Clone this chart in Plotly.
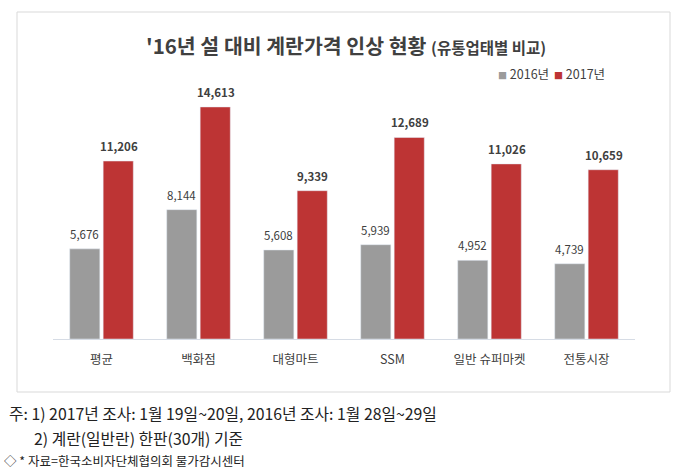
import plotly.graph_objects as go

# 유통업태별 계란 한판 가격 (원)
categories = ['평균', '백화점', '대형마트', 'SSM', '일반 슈퍼마켓', '전통시장']
price_2016 = [5676, 8144, 5608, 5939, 4952, 4739]
price_2017 = [11206, 14613, 9339, 12689, 11026, 10659]
series_names = ['2016년', '2017년']

W, H = 680, 471
ml, mr, mt, mb = 53, 45, 100, 132
pw, ph = W - ml - mr, H - mt - mb

def px(x):
    return (x - ml) / pw

def py(y):
    return (H - mb - y) / ph

font = 'Noto Sans CJK KR'
gray = '#9b9b9b'
red = '#bd3434'
colors = [gray, red]

fig = go.Figure()
fig.add_trace(go.Bar(x=categories, y=price_2016, name=series_names[0],
                     marker=dict(color=gray), showlegend=False))
fig.add_trace(go.Bar(x=categories, y=price_2017, name=series_names[1],
                     marker=dict(color=red), showlegend=False))

# 값 라벨
ann = []
for c, v in zip(categories, price_2016):
    ann.append(dict(x=c, y=v, text=f'{v:,}', showarrow=False, xshift=-17,
                    xanchor='center', yanchor='bottom', yshift=5,
                    font=dict(family=font, size=11.5, color='#404040')))
for c, v in zip(categories, price_2017):
    ann.append(dict(x=c, y=v, text=f'<b>{v:,}</b>', showarrow=False, xshift=17,
                    xanchor='center', yanchor='bottom', yshift=5,
                    font=dict(family=font, size=11.5, color='#404040')))

# 제목
ann.append(dict(xref='paper', yref='paper', x=px(346), y=py(45), showarrow=False,
                xanchor='center', yanchor='middle',
                text="<b>'16년 설 대비 계란가격 인상 현황</b> <b><span style='font-size:15.5px'>(유통업태별 비교)</span></b>",
                font=dict(family=font, size=20.5, color='#404040')))

# 범례
for x0, name, col in zip([496, 552], series_names, colors):
    ann.append(dict(xref='paper', yref='paper', x=px(x0), y=py(73), showarrow=False,
                    xanchor='left', yanchor='middle',
                    text=f"<span style='color:{col};font-size:9px'>■</span> {name}",
                    font=dict(family=font, size=12.5, color='#404040')))

# 주석
notes = [
    (7, 413, '주: 1) 2017년 조사: 1월 19일~20일, 2016년 조사: 1월 28일~29일', 15.8),
    (32, 438, '2) 계란(일반란) 한판(30개) 기준', 15.8),
    (2, 460, '◇ * 자료=한국소비자단체협의회 물가감시센터', 12.5),
]
for x0, y0, t, s in notes:
    ann.append(dict(xref='paper', yref='paper', x=px(x0), y=py(y0), xanchor='left',
                    yanchor='middle', showarrow=False, text=t,
                    font=dict(family=font, size=s, color='#222222')))

fig.update_layout(
    width=W, height=H,
    margin=dict(l=ml, r=mr, t=mt, b=mb),
    paper_bgcolor='white', plot_bgcolor='white',
    barmode='group', bargap=0.31, bargroupgap=0.1,
    annotations=ann,
    shapes=[dict(type='rect', xref='paper', yref='paper',
                 x0=px(17), x1=px(670), y0=py(392), y1=py(12),
                 line=dict(color='#d9d9d9', width=1), layer='below')],
    xaxis=dict(showline=True, linecolor='#d6dce5', linewidth=1,
               ticks='outside', ticklen=9, tickcolor='rgba(0,0,0,0)',
               tickfont=dict(family=font, size=12.5, color='#404040')),
    yaxis=dict(visible=False, range=[0, 15050], showgrid=False),
)

fig.write_html('out.html', config={'displayModeBar': False},
               post_script="document.body.style.margin='0';")
